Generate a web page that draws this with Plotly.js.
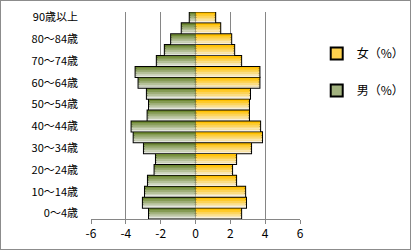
<!DOCTYPE html>
<html><head><meta charset="utf-8">
<script src="https://cdn.plot.ly/plotly-3.0.1.min.js"></script>
<style>
html,body{margin:0;padding:0;background:#fff;}
#c{width:411px;height:250px;box-sizing:border-box;border:1px solid #8c8c8c;}
</style></head>
<body><div id="c"><div id="plot"></div></div>
<script>
const ageGroups = ["0～4歳","5～9歳","10～14歳","15～19歳","20～24歳","25～29歳","30～34歳","35～39歳","40～44歳","45～49歳","50～54歳","55～59歳","60～64歳","65～69歳","70～74歳","75～79歳","80～84歳","85～89歳","90歳以上"];
const female = [2.62,2.90,2.85,2.33,2.10,2.33,3.19,3.82,3.71,3.07,3.07,3.13,3.67,3.67,2.62,2.22,2.05,1.42,1.13];
const male = [2.67,3.02,2.90,2.73,2.35,2.27,2.96,3.55,3.67,2.75,2.67,2.79,3.27,3.44,2.22,1.76,1.40,0.79,0.33];
const xTicks = [-6,-4,-2,0,2,4,6];
const seriesNames = {female:"女（%）", male:"男（%）"};

const idx = ageGroups.map((_, i) => i);
const maleNeg = male.map(v => -v);
const W = 0.92, N = 6;
function mix(a, b, t){
  const c = a.map((v,i)=>Math.round(v+(b[i]-v)*t));
  return 'rgb(' + c.join(',') + ')';
}
const fTop=[255,192,0], fBot=[248,240,220];
const mTop=[110,136,50], mBot=[226,229,220];
const traces = [];
traces.push({type:'bar',orientation:'h',name:seriesNames.female,x:female,y:idx,width:W,
  marker:{color:mix(fTop,fBot,0.35),line:{color:'#000',width:2}},legendgroup:'f',hoverinfo:'skip'});
traces.push({type:'bar',orientation:'h',name:seriesNames.male,x:maleNeg,y:idx,width:W,
  marker:{color:mix(mTop,mBot,0.45),line:{color:'#000',width:2}},legendgroup:'m',hoverinfo:'skip'});
for (let k=0;k<N;k++){
  const t = k/(N-1);
  const base = -W/2 + k*W/N;
  traces.push({type:'bar',orientation:'h',x:female,y:idx,width:W/N,offset:base,showlegend:false,hoverinfo:'skip',
    marker:{color:mix(fBot,fTop,t),line:{width:0}}});
  traces.push({type:'bar',orientation:'h',x:maleNeg,y:idx,width:W/N,offset:base,showlegend:false,hoverinfo:'skip',
    marker:{color:mix(mBot,mTop,t),line:{width:0}}});
}

const tv = idx.filter(i => i%2===0);
const layout = {
  width:409,height:248,
  margin:{l:90,r:110,t:11,b:30,autoexpand:false},
  paper_bgcolor:'#fff',plot_bgcolor:'#fff',
  barmode:'overlay',
  font:{family:'"Noto Sans CJK JP", sans-serif',size:11,color:'#000'},
  xaxis:{range:[-6,6],tickvals:xTicks,ticktext:xTicks.map(String),showgrid:true,gridcolor:'#868686',gridwidth:1,
    zeroline:false,showline:true,linecolor:'#868686',ticks:'outside',ticklen:4,tickcolor:'#868686',fixedrange:true,
    tickfont:{size:12}},
  yaxis:{range:[-0.5,18.5],tickvals:tv,ticktext:tv.map(i=>ageGroups[i]),showgrid:false,zeroline:false,
    showline:false,ticks:'',ticklabelstandoff:12,fixedrange:true},
  legend:{x:1.08,y:0.87,xanchor:'left',yanchor:'top',traceorder:'grouped',tracegroupgap:18,
    font:{size:12},itemwidth:30},
  showlegend:true
};
Plotly.newPlot('plot',traces,layout,{displayModeBar:false,staticPlot:true});
</script></body></html>
